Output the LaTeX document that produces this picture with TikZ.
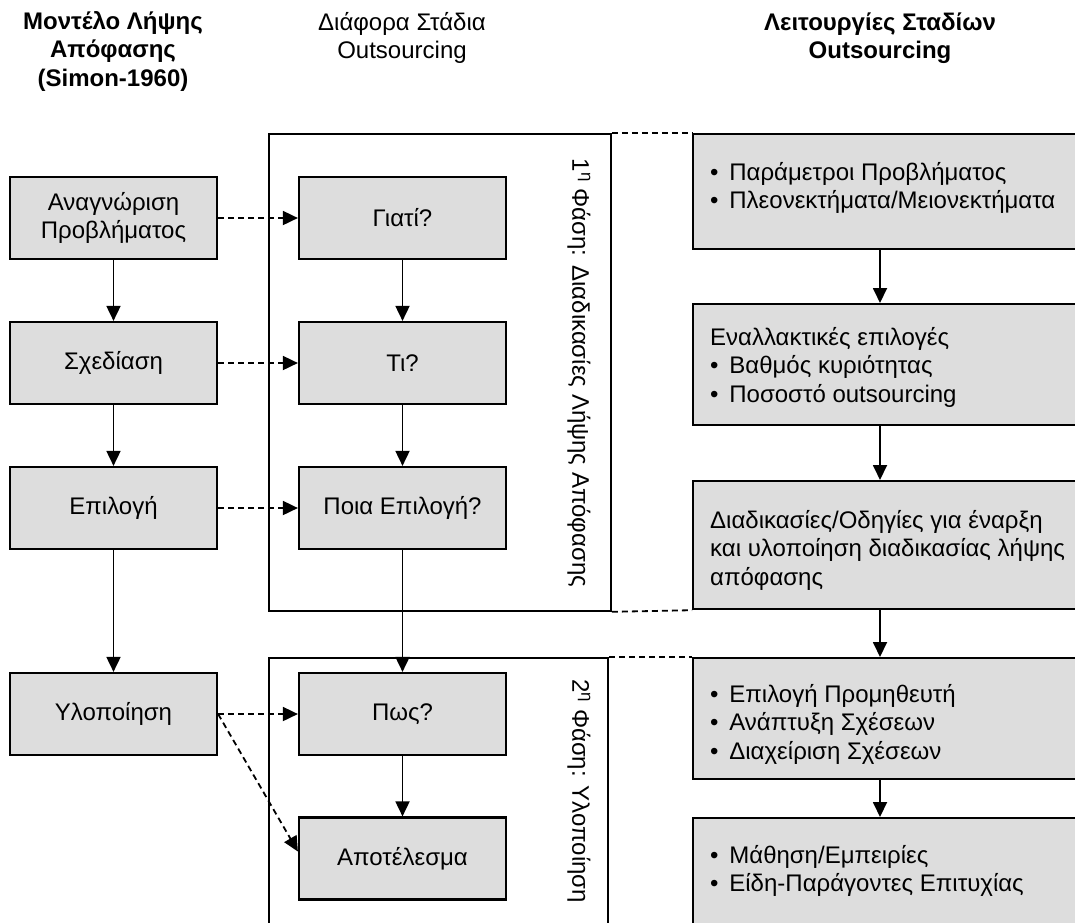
\documentclass[tikz,border=0pt]{standalone}
\usepackage{fontspec}
\setmainfont{Liberation Sans}
\usetikzlibrary{arrows.meta}
\definecolor{boxfill}{RGB}{221,221,221}
\newcommand\diagfont{\fontsize{24}{28.5}\selectfont}
\newcommand\bul{•\hspace{0.45em}}
\begin{document}
\begin{tikzpicture}[x=1pt,y=-1pt,
  stage/.style={draw, line width=2.2pt, fill=boxfill, minimum width=207pt,
    minimum height=82pt, align=center, inner sep=0pt, font=\diagfont},
  funcbox/.style={draw, line width=2.2pt, fill=boxfill, minimum width=400pt,
    inner sep=0pt, anchor=north west},
  functext/.style={anchor=west, align=left, inner sep=0pt, font=\diagfont},
  phaseframe/.style={draw, line width=1.8pt, inner sep=0pt, anchor=north west},
  flow/.style={line width=1.8pt, -{Triangle[length=15pt,width=14pt]}},
  link/.style={flow, dash pattern=on 6pt off 4pt},
  guide/.style={line width=1.8pt, dash pattern=on 6pt off 4pt},
  heading/.style={align=center, font=\diagfont},
  boldheading/.style={align=center, font=\diagfont\bfseries},
  phaselabel/.style={rotate=-90, font=\diagfont, inner sep=0pt}
]
\useasboundingbox (0,0) rectangle (1075,922);
\clip (0,0) rectangle (1075,922);

% column headings
\node[boldheading] (t1) at (113,51) {Μοντέλο Λήψης\\Απόφασης\\(Simon-1960)};
\node[heading] (t2) at (402,38) {Διάφορα Στάδια\\Outsourcing};
\node[boldheading] (t3) at (880,38) {Λειτουργίες Σταδίων\\Outsourcing};

% phase frames
\node[phaseframe, minimum width=342pt, minimum height=477pt] (f1) at (268,133) {};
\node[phaseframe, minimum width=339pt, minimum height=280pt] (f2) at (268,657) {};
\node[phaselabel] (p1) at (579,373) {1\textsuperscript{η} Φάση: Διαδικασίες Λήψης Απόφασης};
\node[phaselabel] (p2) at (579,791) {2\textsuperscript{η} Φάση: Υλοποίηση};

% decision model (Simon)
\node[stage] (n1) at (113.5,218) {Αναγνώριση\\Προβλήματος};
\node[stage] (n2) at (113.5,363) {Σχεδίαση};
\node[stage] (n3) at (113.5,508) {Επιλογή};
\node[stage] (n4) at (113.5,714) {Υλοποίηση};

% outsourcing stages
\node[stage] (m1) at (402.5,218) {Γιατί?};
\node[stage] (m2) at (402.5,363) {Τι?};
\node[stage] (m3) at (402.5,508) {Ποια Επιλογή?};
\node[stage] (m4) at (402.5,714) {Πως?};
\node[stage] (m5) at (402.5,858.5) {Αποτέλεσμα};

% stage functions: boxes run past the right edge, text set inside
\node[funcbox, minimum height=115pt] (r1) at (692,133) {};
\node[funcbox, minimum height=121pt] (r2) at (692,303) {};
\node[funcbox, minimum height=128pt] (r3) at (692,480) {};
\node[funcbox, minimum height=121pt] (r4) at (692,657) {};
\node[funcbox, minimum height=113pt] (r5) at (692,817) {};

\node[functext] (r1t) at (710,188)
  {\bul Παράμετροι Προβλήματος\\\bul Πλεονεκτήματα/Μειονεκτήματα};
\node[functext] (r2t) at (710,367)
  {Εναλλακτικές επιλογές\\\bul Βαθμός κυριότητας\\\bul Ποσοστό outsourcing};
\node[functext] (r3t) at (710,550)
  {Διαδικασίες/Οδηγίες για έναρξη\\και υλοποίηση διαδικασίας λήψης\\απόφασης};
\node[functext] (r4t) at (710,724)
  {\bul Επιλογή Προμηθευτή\\\bul Ανάπτυξη Σχέσεων\\\bul Διαχείριση Σχέσεων};
\node[functext] (r5t) at (710,871)
  {\bul Μάθηση/Εμπειρίες\\\bul Είδη-Παράγοντες Επιτυχίας};

\coordinate (rx) at (880,0);

% vertical flows
\draw[flow] (n1) -- (n2);
\draw[flow] (n2) -- (n3);
\draw[flow] (n3) -- (n4);
\draw[flow] (m1) -- (m2);
\draw[flow] (m2) -- (m3);
\draw[flow] (m3) -- (m4);
\draw[flow] (m4) -- (m5);
\draw[flow] (r1.south -| rx) -- (r2.north -| rx);
\draw[flow] (r2.south -| rx) -- (r3.north -| rx);
\draw[flow] (r3.south -| rx) -- (r4.north -| rx);
\draw[flow] (r4.south -| rx) -- (r5.north -| rx);

% correspondences between the model and the stages
\draw[link] (n1.east) -- (m1.west);
\draw[link] (n2.east) -- (m2.west);
\draw[link] (n3.east) -- (m3.west);
\draw[link] (n4.east) -- (m4.west);
\draw[link] (n4.east) -- ([yshift=7pt]m5.west);

% phase boundaries carried over to the functions
\draw[guide] (f1.north east) -- (r1.north west);
\draw[guide] (f1.south east) -- (r3.south west);
\draw[guide] (f2.north east) -- (r4.north west);
\end{tikzpicture}
\end{document}
